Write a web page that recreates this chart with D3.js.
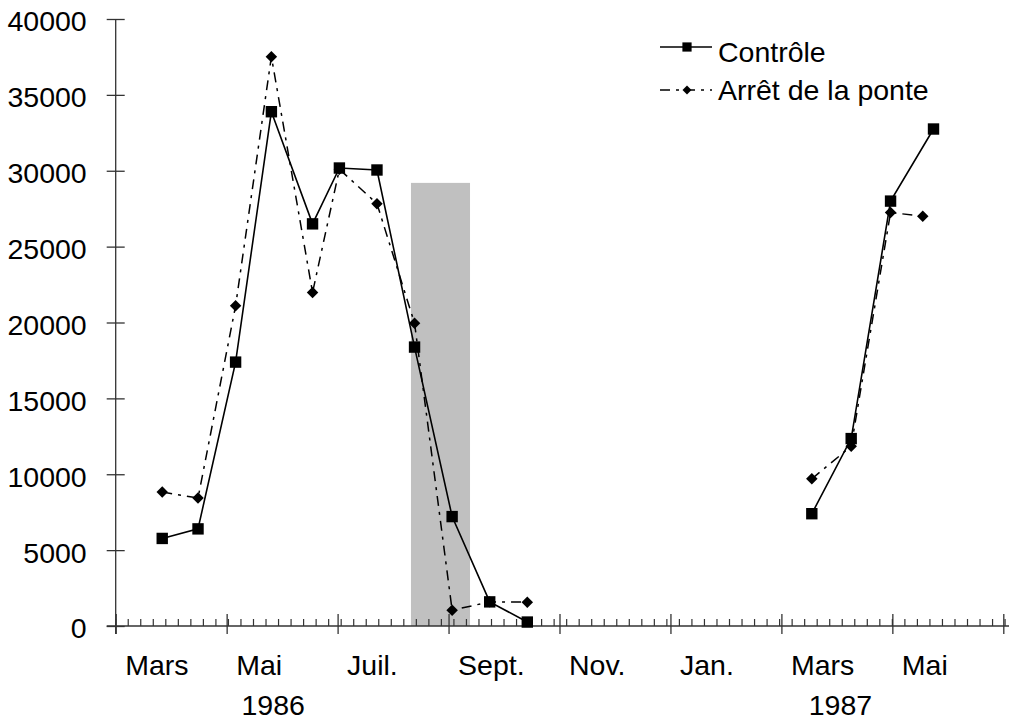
<!DOCTYPE html>
<html>
<head>
<meta charset="utf-8">
<script src="https://cdn.jsdelivr.net/npm/d3@7/dist/d3.min.js"></script>
<style>
  html, body { margin: 0; padding: 0; background: #fff; }
  svg text { font-family: "Liberation Sans", Arial, Helvetica, sans-serif; fill: #000; }
</style>
</head>
<body>
<svg id="chart" width="1011" height="722"></svg>
<script>
// ---- data (x = days since start of axis) ----
const monthLabels = ["Mars", "Mai", "Juil.", "Sept.", "Nov.", "Jan.", "Mars", "Mai"];
const yearLabels = ["1986", "1987"];
const yearDays = [88, 405];
const yTicks = [0, 5000, 10000, 15000, 20000, 25000, 30000, 35000, 40000];

const controleDays1986 = [26, 46, 67, 87, 110, 125, 146, 167, 188, 209, 230];
const controleVals1986 = [5770, 6400, 17390, 33890, 26500, 30180, 30050, 18380, 7210, 1590, 260];
const controleDays1987 = [389, 411, 433, 457];
const controleVals1987 = [7400, 12350, 28000, 32750];

const arretDays1986 = [26, 46, 67, 87, 110, 125, 146, 167, 188, 209, 230];
const arretVals1986 = [8830, 8430, 21100, 37520, 21980, 30100, 27830, 19950, 1040, 1590, 1570];
const arretDays1987 = [389, 411, 433, 451];
const arretVals1987 = [9700, 11850, 27250, 27000];

const shadeStart = 165, shadeEnd = 198, shadeTop = 29200; // period band (days, value)

const seriesNames = ["Contrôle", "Arrêt de la ponte"];

// ---- layout ----
const FS = 28.5;
const svg = d3.select("#chart");
const x = d3.scaleLinear().domain([0, 496]).range([115.7, 1003.3]);
const y = d3.scaleLinear().domain([0, 40000]).range([626, 19]);

const majorDays = d3.range(0, 497, 62);
const minorDays = d3.range(0, 503, 7);

// shaded band
svg.append("rect")
  .attr("x", x(shadeStart)).attr("width", x(shadeEnd) - x(shadeStart))
  .attr("y", y(shadeTop)).attr("height", y(0) - y(shadeTop))
  .attr("fill", "#c0c0c0");

// y axis
const yAxis = svg.append("g").attr("transform", `translate(${x(0)},0)`)
  .call(d3.axisLeft(y).tickValues(yTicks).tickSize(9).tickPadding(20).tickFormat(d3.format("d")));
yAxis.select(".domain").remove();
yAxis.selectAll(".tick line").attr("x1", -9).attr("x2", 9).attr("stroke", "#333").attr("stroke-width", 1.3);
yAxis.selectAll(".tick text").attr("font-size", FS).attr("dy", "0.42em").attr("fill", "#000")
  .attr("font-family", "Liberation Sans, Arial, sans-serif");
svg.append("line").attr("x1", x(0)).attr("x2", x(0)).attr("y1", y(40000)).attr("y2", y(0) + 8)
  .attr("stroke", "#333").attr("stroke-width", 1.3);

// x axis
svg.append("line").attr("x1", x(0) - 9).attr("x2", 1009).attr("y1", y(0)).attr("y2", y(0))
  .attr("stroke", "#333").attr("stroke-width", 1.3);
svg.append("g").selectAll("line.minor").data(minorDays.filter(d => x(d) <= 1009)).join("line")
  .attr("x1", d => x(d)).attr("x2", d => x(d)).attr("y1", y(0) - 7).attr("y2", y(0))
  .attr("stroke", "#333").attr("stroke-width", 1.2);
const xAxis = svg.append("g").attr("transform", `translate(0,${y(0)})`)
  .call(d3.axisBottom(x).tickValues(majorDays).tickSize(9).tickFormat((d, i) => monthLabels[i] || ""));
xAxis.select(".domain").remove();
xAxis.selectAll(".tick line").attr("y1", -12).attr("y2", 8).attr("stroke", "#333").attr("stroke-width", 1.3);
xAxis.selectAll(".tick text")
  .attr("text-anchor", "start").attr("x", 9).attr("y", 49).attr("dy", 0)
  .attr("font-size", FS).attr("fill", "#000")
  .attr("font-family", "Liberation Sans, Arial, sans-serif");
xAxis.selectAll(".tick").filter((d, i) => i >= monthLabels.length).select("text").remove();

svg.append("g").selectAll("text.year").data(yearLabels).join("text")
  .attr("x", (d, i) => x(yearDays[i])).attr("y", 715)
  .attr("text-anchor", "middle").attr("font-size", FS).text(d => d);

// lines
const line = d3.line().x(d => x(d[0])).y(d => y(d[1]));
const zip = (a, b) => a.map((d, i) => [d, b[i]]);
const arretSegs = [zip(arretDays1986, arretVals1986), zip(arretDays1987, arretVals1987)];
const ctrlSegs = [zip(controleDays1986, controleVals1986), zip(controleDays1987, controleVals1987)];
const dashArr = "10,6,3,6";

svg.append("g").selectAll("path").data(arretSegs).join("path")
  .attr("d", line).attr("fill", "none").attr("stroke", "#000").attr("stroke-width", 1.5)
  .attr("stroke-dasharray", dashArr);
svg.append("g").selectAll("path").data(ctrlSegs).join("path")
  .attr("d", line).attr("fill", "none").attr("stroke", "#000").attr("stroke-width", 1.6);

const square = d3.symbol().type(d3.symbolSquare).size(130);

svg.append("g").selectAll("path").data(arretSegs.flat()).join("path")
  .attr("d", d3.symbol().type(d3.symbolSquare).size(66)).attr("fill", "#000")
  .attr("transform", d => `translate(${x(d[0])},${y(d[1])}) rotate(45)`);
svg.append("g").selectAll("path").data(ctrlSegs.flat()).join("path")
  .attr("transform", d => `translate(${x(d[0])},${y(d[1])})`)
  .attr("d", square).attr("fill", "#000");

// legend
const lg = svg.append("g");
lg.append("line").attr("x1", 660).attr("x2", 712).attr("y1", 47).attr("y2", 47)
  .attr("stroke", "#000").attr("stroke-width", 1.6);
lg.append("path").attr("transform", "translate(687,47)")
  .attr("d", d3.symbol().type(d3.symbolSquare).size(85)).attr("fill", "#000");
lg.append("text").attr("x", 718).attr("y", 62).attr("font-size", FS).text(seriesNames[0]);

lg.append("line").attr("x1", 660).attr("x2", 712).attr("y1", 90).attr("y2", 90)
  .attr("stroke", "#000").attr("stroke-width", 1.5).attr("stroke-dasharray", dashArr);
lg.append("path").attr("transform", "translate(687,90) rotate(45)")
  .attr("d", d3.symbol().type(d3.symbolSquare).size(40)).attr("fill", "#000");
lg.append("text").attr("x", 718).attr("y", 100).attr("font-size", FS).text(seriesNames[1]);
</script>
</body>
</html>
